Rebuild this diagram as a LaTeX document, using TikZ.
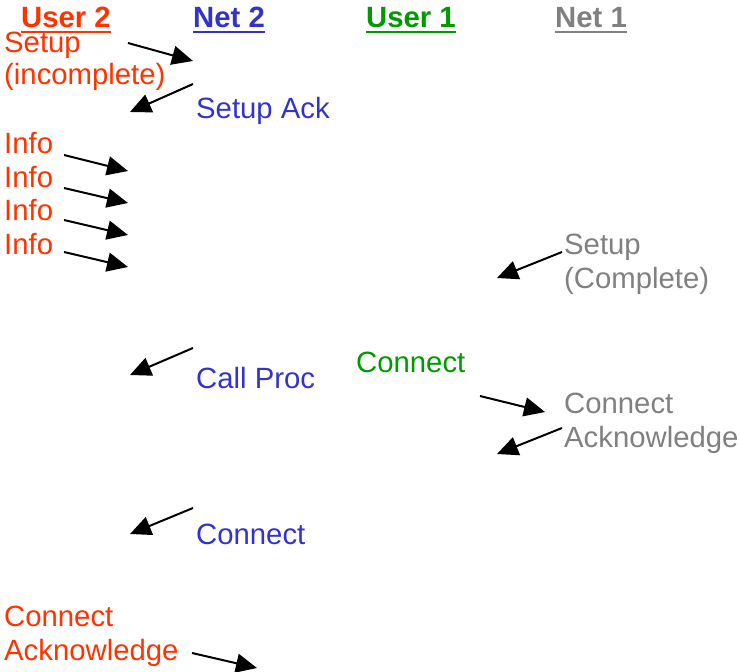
\documentclass[tikz,border=0pt]{standalone}
\usepackage{fontspec}
\setmainfont{Liberation Sans}
\usetikzlibrary{arrows.meta,calc}
\definecolor{usertwo}{HTML}{FF3300}
\definecolor{nettwo}{HTML}{3333CC}
\definecolor{userone}{HTML}{009900}
\definecolor{netone}{HTML}{808080}
\tikzset{
  lbl/.style={anchor=base west, inner sep=0pt, font=\fontsize{29.3}{34}\selectfont},
  hdr/.style={lbl, font=\fontsize{29.3}{34}\selectfont\bfseries},
  msg/.style={draw=black, line width=2pt, -{Triangle[length=21pt,width=19pt]}},
  uline/.style={line width=2.5pt}
}
\begin{document}
\begin{tikzpicture}[x=1pt,y=-1pt]
\useasboundingbox (0,0) rectangle (740,672);

% column headings
\node[hdr, text=usertwo] (hu2) at (21,27) {User 2};
\node[hdr, text=nettwo]  (hn2) at (193,27) {Net 2};
\node[hdr, text=userone] (hu1) at (366,27) {User 1};
\node[hdr, text=netone]  (hn1) at (555,27) {Net 1};
\foreach \h/\c in {hu2/usertwo,hn2/nettwo,hu1/userone,hn1/netone}
  \draw[uline, draw=\c] ($(\h.base west)+(0,5)$) -- ($(\h.base east)+(0,5)$);

% message labels
\node[lbl, text=usertwo] (setupa) at (4,52) {Setup};
\node[lbl, text=usertwo] (setupb) at (4,84) {(incomplete)};
\node[lbl, text=nettwo]  (sack)   at (196,118) {Setup Ack};
\node[lbl, text=usertwo] (info1)  at (4,153) {Info};
\node[lbl, text=usertwo] (info2)  at (4,187) {Info};
\node[lbl, text=usertwo] (info3)  at (4,220) {Info};
\node[lbl, text=usertwo] (info4)  at (4,254) {Info};
\node[lbl, text=netone]  (scompa) at (564,254) {Setup};
\node[lbl, text=netone]  (scompb) at (564,288) {(Complete)};
\node[lbl, text=userone] (conn1)  at (356,372) {Connect};
\node[lbl, text=nettwo]  (cproc)  at (196,388) {Call Proc};
\node[lbl, text=netone]  (cacka)  at (564,413) {Connect};
\node[lbl, text=netone]  (cackb)  at (564,447) {Acknowledge};
\node[lbl, text=nettwo]  (conn2)  at (196,544) {Connect};
\node[lbl, text=usertwo] (cack2a) at (4,626) {Connect};
\node[lbl, text=usertwo] (cack2b) at (4,660) {Acknowledge};

% arrow end points
\coordinate (a1s) at (128,43);  \coordinate (a1e) at (193,61);
\coordinate (a2s) at (193,84);  \coordinate (a2e) at (130,112);
\coordinate (i1s) at (64,155);  \coordinate (i1e) at (128,171);
\coordinate (i2s) at (64,188);  \coordinate (i2e) at (128,203);
\coordinate (i3s) at (64,220);  \coordinate (i3e) at (128,235);
\coordinate (i4s) at (64,252);  \coordinate (i4e) at (128,267);
\coordinate (s1s) at (562,252); \coordinate (s1e) at (497,278);
\coordinate (p1s) at (193,348); \coordinate (p1e) at (130,375);
\coordinate (c1s) at (480,396); \coordinate (c1e) at (545,412);
\coordinate (k1s) at (562,428); \coordinate (k1e) at (497,454);
\coordinate (c2s) at (193,508); \coordinate (c2e) at (130,534);
\coordinate (k2s) at (192,653); \coordinate (k2e) at (257,668);

% signalling arrows
\foreach \s/\e in {a1s/a1e,a2s/a2e,i1s/i1e,i2s/i2e,i3s/i3e,i4s/i4e,
                   s1s/s1e,p1s/p1e,c1s/c1e,k1s/k1e,c2s/c2e,k2s/k2e}
  \draw[msg] (\s) -- (\e);
\end{tikzpicture}
\end{document}
